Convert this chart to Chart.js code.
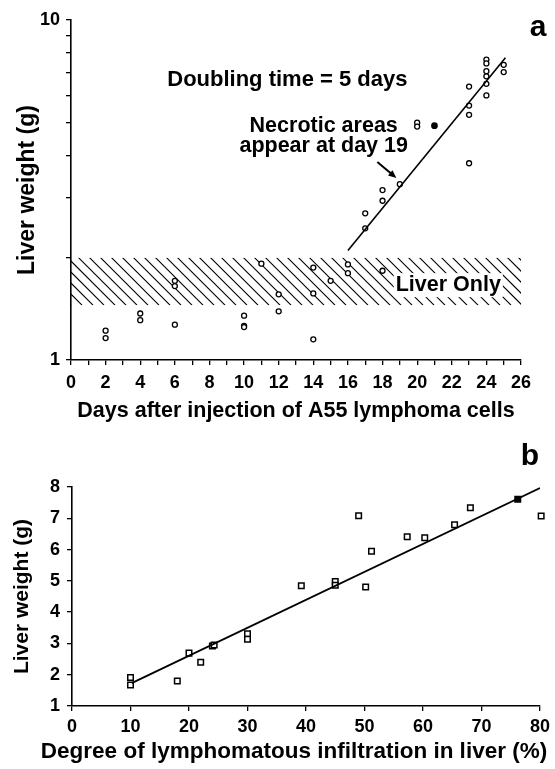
<!DOCTYPE html>
<html>
<head>
<meta charset="utf-8">
<script src="https://cdn.jsdelivr.net/npm/chart.js@4/dist/chart.umd.min.js"></script>
<style>
  html, body { margin: 0; padding: 0; background: #fff; }
  body { width: 555px; height: 769px; position: relative; overflow: hidden; }
  canvas { position: absolute; left: 0; }
  #chartA { top: 0; }
  #chartB { top: 430px; }
</style>
</head>
<body>
<canvas id="chartA" width="555" height="430"></canvas>
<canvas id="chartB" width="555" height="339"></canvas>
<script>
const daysOpen = [2, 2, 4, 4, 6, 6, 6, 10, 10, 10, 11, 12, 12, 14, 14, 14, 15, 16, 16, 17, 17, 18, 18, 18, 19, 20, 20, 23, 23, 23, 23, 24, 24, 24, 24, 24, 24, 25, 25];
const weightOpen = [1.22, 1.16, 1.37, 1.31, 1.71, 1.65, 1.27, 1.35, 1.26, 1.25, 1.92, 1.56, 1.39, 1.87, 1.57, 1.15, 1.71, 1.91, 1.80, 2.70, 2.44, 3.16, 2.94, 1.83, 3.29, 4.99, 4.86, 6.37, 5.60, 5.26, 3.79, 7.65, 7.45, 7.07, 6.83, 6.49, 6.00, 7.38, 7.03];
const daysFilled = [21];
const weightFilled = [4.89];
const growthLineDays = [16, 25.1];
const growthLineWeight = [2.1, 7.75];
const liverOnlyBand = [1.45, 2.0];
const dayTicks = [0, 26];
const weightTicksA = [1, 2, 3, 4, 5, 6, 7, 8, 9, 10];

const infiltrationOpen = [10, 10, 18, 20, 22, 24, 24.3, 30, 30, 39.2, 45, 45, 49, 50.2, 51.2, 57.3, 60.3, 65.4, 68.1, 80.2];
const weightOpenB = [1.91, 1.67, 1.80, 2.69, 2.40, 2.92, 2.95, 3.31, 3.13, 4.84, 4.98, 4.86, 7.08, 4.80, 5.95, 6.41, 6.38, 6.79, 7.34, 7.07];
const infiltrationFilled = [76.2];
const weightFilledB = [7.61];
const fitLineInfiltration = [10.2, 80];
const fitLineWeight = [1.73, 7.97];
const infiltrationTicks = [0, 80];
const weightTicksB = [1, 8];

const fontFamily = "'Liberation Sans', Arial, Helvetica, sans-serif";
Chart.defaults.font.family = fontFamily;
Chart.defaults.color = "#000";

const toPoints = (xs, ys) => xs.map((x, i) => ({ x, y: ys[i] }));

function axisStyle(extra) {
  return Object.assign({
    grid: { display: true, drawOnChartArea: false, color: "#000", tickColor: "#000", tickLength: 5, lineWidth: 1.3 },
    border: { display: true, color: "#000", width: 1.6 },
  }, extra);
}

const annotateA = {
  id: "annotateA",
  beforeDatasetsDraw(chart) {
    const { ctx, scales: { x, y } } = chart;
    const top = y.getPixelForValue(liverOnlyBand[1]);
    const bottom = y.getPixelForValue(liverOnlyBand[0]);
    const left = x.getPixelForValue(dayTicks[0]);
    const right = x.getPixelForValue(dayTicks[1]);
    const h = bottom - top;
    ctx.save();
    ctx.beginPath();
    ctx.rect(left, top, right - left, h);
    ctx.clip();
    ctx.beginPath();
    for (let sx = left - h; sx < right + 2; sx += 11) {
      ctx.moveTo(sx, top);
      ctx.lineTo(sx + h, bottom);
    }
    ctx.lineWidth = 1.1;
    ctx.strokeStyle = "#000";
    ctx.stroke();
    ctx.restore();

    ctx.save();
    ctx.font = `bold 21.5px ${fontFamily}`;
    ctx.textAlign = "center";
    ctx.textBaseline = "middle";
    const lx = x.getPixelForValue(21.8);
    const ly = y.getPixelForValue(1.66);
    const w = ctx.measureText("Liver Only").width;
    ctx.fillStyle = "#fff";
    ctx.fillRect(lx - w / 2 - 2, ly - 12, w + 4, 24);
    ctx.fillStyle = "#000";
    ctx.fillText("Liver Only", lx, ly);
    ctx.restore();
  },
  afterDraw(chart) {
    const { ctx, chartArea, scales: { x, y } } = chart;
    ctx.save();
    ctx.fillStyle = "#000";
    ctx.textAlign = "center";
    ctx.textBaseline = "middle";
    ctx.font = `bold 22px ${fontFamily}`;
    ctx.fillText("Doubling time = 5 days", x.getPixelForValue(12.5), y.getPixelForValue(6.68));
    ctx.font = `bold 21.5px ${fontFamily}`;
    const nx = x.getPixelForValue(14.6);
    const ny = y.getPixelForValue(4.86);
    ctx.fillText("Necrotic areas", nx, ny);
    ctx.fillText("appear at day 19", nx, ny + 20);

    const tx = x.getPixelForValue(17.7), ty = y.getPixelForValue(3.82);
    const hx = x.getPixelForValue(18.8), hy = y.getPixelForValue(3.43);
    const ang = Math.atan2(hy - ty, hx - tx);
    ctx.strokeStyle = "#000";
    ctx.lineWidth = 2;
    ctx.beginPath();
    ctx.moveTo(tx, ty);
    ctx.lineTo(hx - 5 * Math.cos(ang), hy - 5 * Math.sin(ang));
    ctx.stroke();
    ctx.beginPath();
    ctx.moveTo(hx, hy);
    ctx.lineTo(hx - 8 * Math.cos(ang) + 3.5 * Math.sin(ang), hy - 8 * Math.sin(ang) - 3.5 * Math.cos(ang));
    ctx.lineTo(hx - 8 * Math.cos(ang) - 3.5 * Math.sin(ang), hy - 8 * Math.sin(ang) + 3.5 * Math.cos(ang));
    ctx.closePath();
    ctx.fill();

    ctx.font = `bold 30px ${fontFamily}`;
    ctx.fillText("a", chartArea.right + 17, chartArea.top + 8);
    ctx.restore();
  },
};

const annotateB = {
  id: "annotateB",
  afterDraw(chart) {
    const { ctx, chartArea } = chart;
    ctx.save();
    ctx.fillStyle = "#000";
    ctx.textAlign = "center";
    ctx.textBaseline = "middle";
    ctx.font = `bold 30px ${fontFamily}`;
    ctx.fillText("b", chartArea.right - 10, chartArea.top - 30);
    ctx.font = `bold 22.5px ${fontFamily}`;
    ctx.fillText("Degree of lymphomatous infiltration in liver (%)", 294, chart.height - 17);
    ctx.restore();
  },
};

new Chart(document.getElementById("chartA"), {
  type: "scatter",
  data: {
    datasets: [
      {
        type: "line",
        data: toPoints(growthLineDays, growthLineWeight),
        borderColor: "#000",
        borderWidth: 1.6,
        pointRadius: 0,
        fill: false,
      },
      {
        data: toPoints(daysOpen, weightOpen),
        pointStyle: "circle",
        pointRadius: 2.5,
        borderWidth: 1.3,
        borderColor: "#000",
        backgroundColor: "#fff",
      },
      {
        data: toPoints(daysFilled, weightFilled),
        pointStyle: "circle",
        pointRadius: 2.7,
        borderWidth: 1.3,
        borderColor: "#000",
        backgroundColor: "#000",
      },
    ],
  },
  options: {
    responsive: false,
    animation: false,
    layout: { padding: { top: 20, right: 34, left: 0, bottom: 0 } },
    plugins: { legend: { display: false }, tooltip: { enabled: false } },
    scales: {
      x: axisStyle({
        type: "linear",
        min: dayTicks[0],
        max: dayTicks[1],
        afterFit: (s) => { s.height = 70; },
        ticks: {
          stepSize: 1,
          autoSkip: false,
          maxRotation: 0,
          padding: 7,
          font: { size: 18, weight: "bold" },
          callback: (v) => (v % 2 === 0 ? String(v) : ""),
        },
        title: {
          display: true,
          text: "Days after injection of A55 lymphoma cells",
          font: { size: 21.5, weight: "bold" },
          padding: { top: 0, bottom: 6 },
        },
      }),
      y: axisStyle({
        type: "logarithmic",
        min: weightTicksA[0],
        max: weightTicksA[weightTicksA.length - 1],
        afterFit: (s) => { s.width = 71; },
        afterBuildTicks: (s) => { s.ticks = weightTicksA.map((value) => ({ value })); },
        ticks: {
          autoSkip: false,
          padding: 6,
          font: { size: 18, weight: "bold" },
          callback: (v) => (v === 1 || v === 10 ? String(v) : ""),
        },
        title: {
          display: true,
          text: "Liver weight (g)",
          font: { size: 23, weight: "bold" },
          padding: { top: 14, bottom: 0 },
        },
      }),
    },
  },
  plugins: [annotateA],
});

new Chart(document.getElementById("chartB"), {
  type: "scatter",
  data: {
    datasets: [
      {
        type: "line",
        data: toPoints(fitLineInfiltration, fitLineWeight),
        borderColor: "#000",
        borderWidth: 1.8,
        pointRadius: 0,
        fill: false,
      },
      {
        data: toPoints(infiltrationOpen, weightOpenB),
        pointStyle: "rect",
        pointRadius: 3.9,
        borderWidth: 1.5,
        borderColor: "#000",
        backgroundColor: "#fff",
        clip: false,
      },
      {
        data: toPoints(infiltrationFilled, weightFilledB),
        pointStyle: "rect",
        pointRadius: 3.9,
        borderWidth: 1.5,
        borderColor: "#000",
        backgroundColor: "#000",
        clip: false,
      },
    ],
  },
  options: {
    responsive: false,
    animation: false,
    layout: { padding: { top: 57, right: 12, left: 0, bottom: 0 } },
    plugins: { legend: { display: false }, tooltip: { enabled: false } },
    scales: {
      x: axisStyle({
        type: "linear",
        min: infiltrationTicks[0],
        max: infiltrationTicks[1],
        afterFit: (s) => { s.height = 63; },
        ticks: {
          stepSize: 10,
          autoSkip: false,
          maxRotation: 0,
          padding: 5,
          font: { size: 18, weight: "bold" },
        },
      }),
      y: axisStyle({
        type: "linear",
        min: weightTicksB[0],
        max: weightTicksB[1],
        afterFit: (s) => { s.width = 72; },
        ticks: {
          stepSize: 1,
          autoSkip: false,
          padding: 7,
          font: { size: 18, weight: "bold" },
        },
        title: {
          display: true,
          text: "Liver weight (g)",
          font: { size: 21, weight: "bold" },
          padding: { top: 10, bottom: 0 },
        },
      }),
    },
  },
  plugins: [annotateB],
});
</script>
</body>
</html>
